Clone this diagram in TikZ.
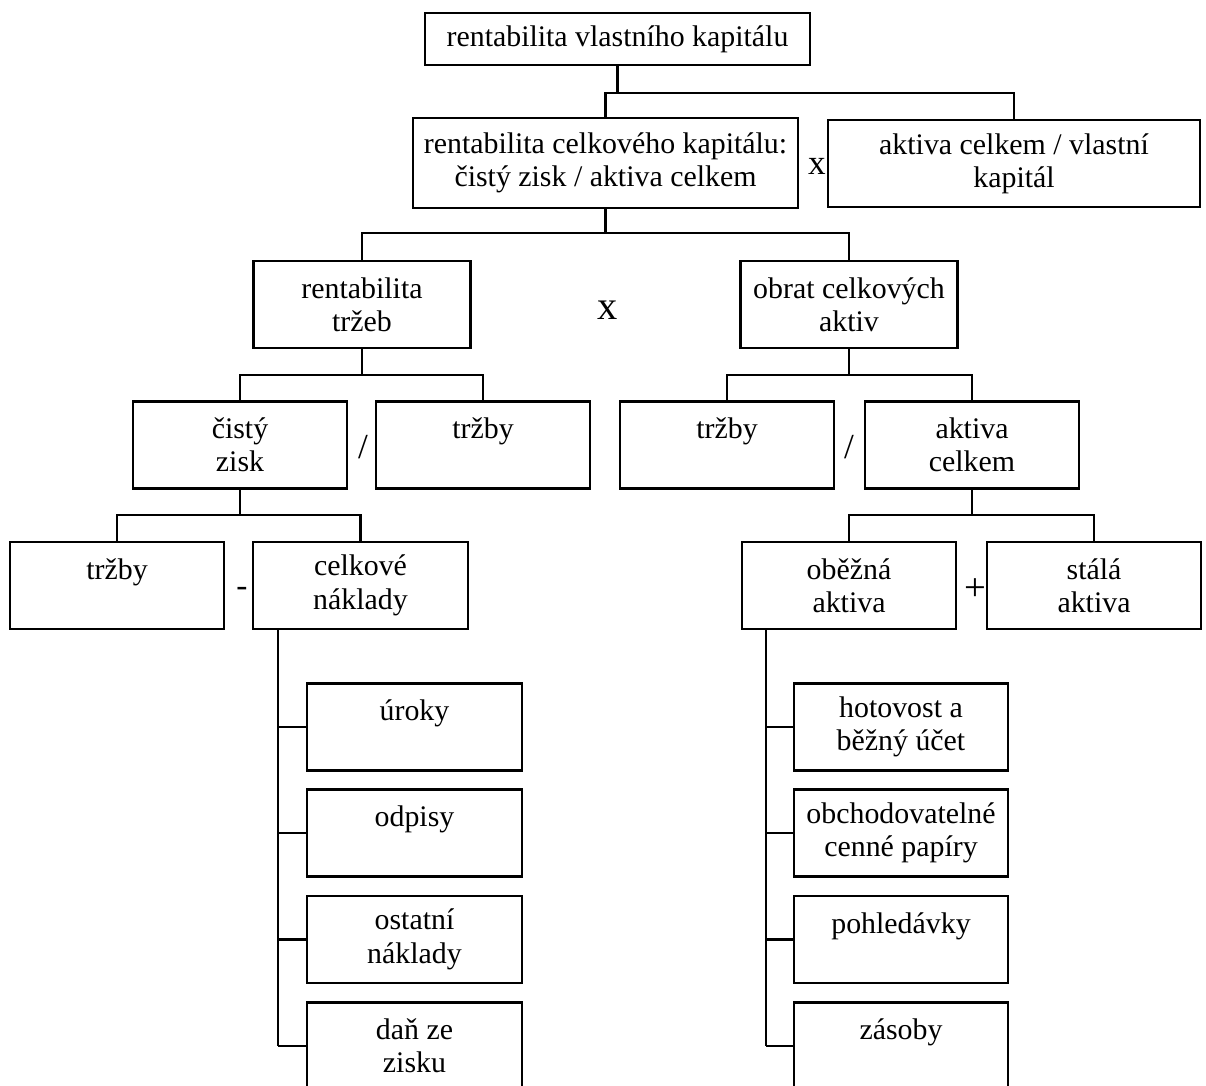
\documentclass[tikz,border=0pt]{standalone}
\usepackage{fontspec}
\setmainfont{Liberation Serif}
\usepackage{tikz}
\usetikzlibrary{positioning}

\begin{document}
\begin{tikzpicture}[
  x=0.5691pt, y=-0.5691pt,
  every node/.style={font=\fontsize{17}{19}\selectfont},
  cell/.style={draw, line width=1.3pt, align=center, inner sep=0pt, minimum width=122pt, minimum height=49.5pt},
  widecell/.style={cell, minimum width=219pt},
  op/.style={inner sep=0pt},
  link/.style={line width=1.3pt}
]
\useasboundingbox (0,0) rectangle (1206,1086);

% top of the tree
\node[widecell, minimum height=29.6pt] (rvk) at (617.5,39) {rentabilita vlastního kapitálu};
\node[widecell, minimum height=51pt] (rck) at (605.5,163) {rentabilita celkového kapitálu:\\čistý zisk / aktiva celkem};
\node[cell, minimum width=211.7pt] (akv) at (1014,163.5) {aktiva celkem / vlastní\\kapitál};
\node[op, font=\fontsize{20}{20}\selectfont] (opx1) at (817,166) {x};

\node[cell, minimum width=123.5pt] (rtz) at (362,304.5) {rentabilita\\tržeb};
\node[cell, minimum width=123.5pt] (oca) at (849,304.5) {obrat celkových\\aktiv};
\node[op, font=\fontsize{23}{23}\selectfont] (opx2) at (608,310) {x};

\node[cell] (czi) at (240,445) {čistý\\zisk};
\node[cell] (trz1) at (483,445) {tržby\\\mbox{}};
\node[op, font=\fontsize{20}{20}\selectfont] (opd1) at (363,447) {/};
\node[cell] (trz2) at (727,445) {tržby\\\mbox{}};
\node[cell] (ace) at (972,445) {aktiva\\celkem};
\node[op, font=\fontsize{20}{20}\selectfont] (opd2) at (849,447) {/};

\node[cell] (trz3) at (117,585.5) {tržby\\\mbox{}};
\node[cell] (cnk) at (360.5,585.5) {celkové\\náklady};
\node[op, font=\fontsize{19}{19}\selectfont] (opm) at (242,592) {-};
\node[cell] (oak) at (849,585.5) {oběžná\\aktiva};
\node[cell] (sak) at (1094,585.5) {stálá\\aktiva};
\node[op, font=\fontsize{22}{22}\selectfont] (opp) at (975,590) {+};

% cost items
\node[cell] (uro) at (414.5,727) {úroky\\\mbox{}};
\node[cell] (odp) at (414.5,833) {odpisy\\\mbox{}};
\node[cell] (osn) at (414.5,939.5) {ostatní\\náklady};
\node[cell] (dan) at (414.5,1046) {daň ze\\zisku};

% current assets items
\node[cell] (hot) at (901,727) {hotovost a\\běžný účet};
\node[cell] (ocp) at (901,833) {obchodovatelné\\cenné papíry};
\node[cell] (poh) at (901,939.5) {pohledávky\\\mbox{}};
\node[cell] (zas) at (901,1046) {zásoby\\\mbox{}};

% connectors
\coordinate (j1) at (0,93);
\coordinate (j2) at (0,233);
\coordinate (j3) at (0,375);
\coordinate (j4) at (0,515);
\coordinate (lsp) at (278,0);
\coordinate (rsp) at (766,0);

\draw[link] (rvk.south) -- (rvk.south |- j1);
\draw[link] (rck.north) -- (rck.north |- j1) -- (akv.north |- j1) -- (akv.north);

\draw[link] (rck.south) -- (rck.south |- j2);
\draw[link] (rtz.north) -- (rtz.north |- j2) -- (oca.north |- j2) -- (oca.north);

\draw[link] (rtz.south) -- (rtz.south |- j3);
\draw[link] (czi.north) -- (czi.north |- j3) -- (trz1.north |- j3) -- (trz1.north);
\draw[link] (oca.south) -- (oca.south |- j3);
\draw[link] (trz2.north) -- (trz2.north |- j3) -- (ace.north |- j3) -- (ace.north);

\draw[link] (czi.south) -- (czi.south |- j4);
\draw[link] (trz3.north) -- (trz3.north |- j4) -- (cnk.north |- j4) -- (cnk.north);
\draw[link] (ace.south) -- (ace.south |- j4);
\draw[link] (oak.north) -- (oak.north |- j4) -- (sak.north |- j4) -- (sak.north);

\draw[link] (lsp |- cnk.south) -- (lsp |- dan.west);
\foreach \n in {uro, odp, osn, dan}
  \draw[link] (lsp |- \n.west) -- (\n.west);
\draw[link] (rsp |- oak.south) -- (rsp |- zas.west);
\foreach \n in {hot, ocp, poh, zas}
  \draw[link] (rsp |- \n.west) -- (\n.west);

\end{tikzpicture}
\end{document}
